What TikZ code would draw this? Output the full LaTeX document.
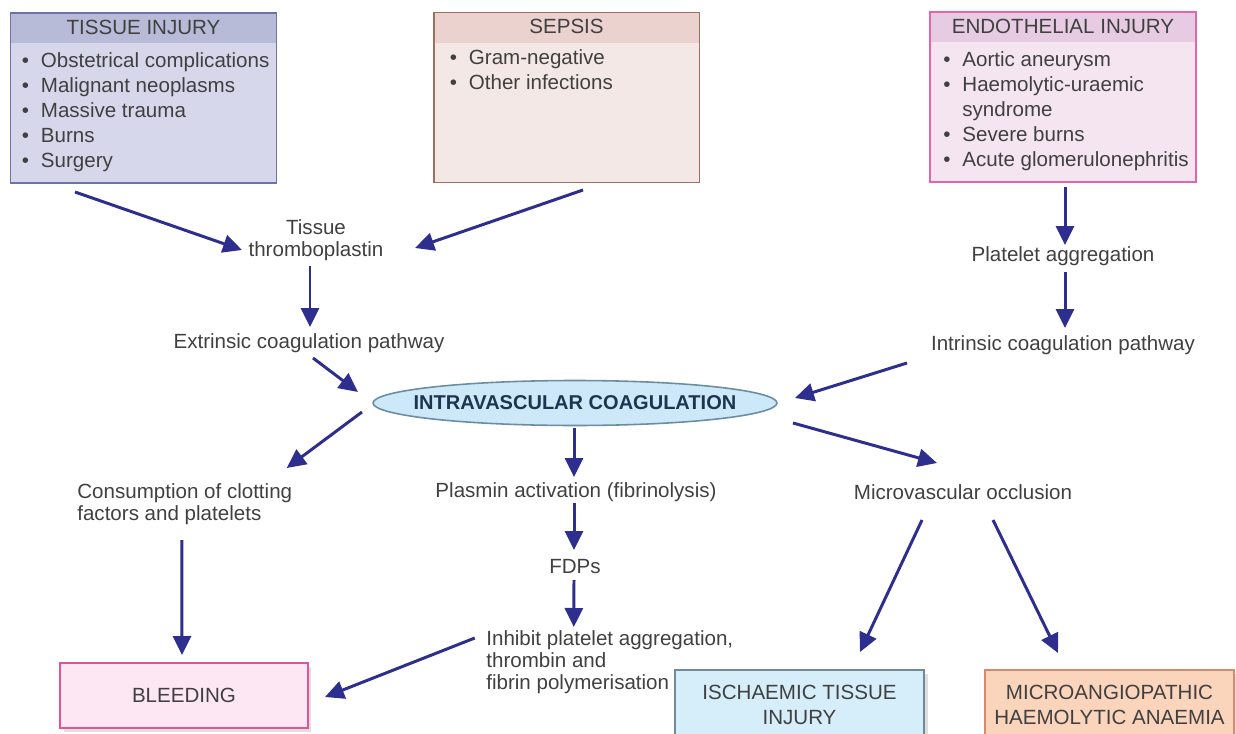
\documentclass[tikz,border=0pt]{standalone}
\usepackage{fontspec}
\setmainfont{Liberation Sans}
\usetikzlibrary{arrows.meta,shapes.geometric,shadows}

\definecolor{arrowblue}{HTML}{2E2E8E}
\definecolor{txtgrey}{HTML}{404040}
\definecolor{tissuehead}{HTML}{B8BBD8}
\definecolor{tissuebody}{HTML}{D6D7EB}
\definecolor{tissueedge}{HTML}{6E72A6}
\definecolor{sepsishead}{HTML}{EBD2CF}
\definecolor{sepsisbody}{HTML}{F4E8E7}
\definecolor{sepsisedge}{HTML}{9E6F60}
\definecolor{endohead}{HTML}{E7CBE2}
\definecolor{endobody}{HTML}{F4E5F1}
\definecolor{endoedge}{HTML}{E266AB}
\definecolor{bleedfill}{HTML}{FDE7F2}
\definecolor{bleededge}{HTML}{E0559A}
\definecolor{ischfill}{HTML}{D6EDFA}
\definecolor{ischedge}{HTML}{6F8A99}
\definecolor{mahfill}{HTML}{FAD5BC}
\definecolor{mahedge}{HTML}{D48A6C}
\definecolor{ivcfill}{HTML}{CDE8F8}
\definecolor{ivcedge}{HTML}{6B8DA2}
\definecolor{ivctext}{HTML}{1E3550}

\newcommand{\itm}[1]{\makebox[0.38cm][l]{\textbullet}#1}
\newcommand{\itmcont}[1]{\makebox[0.38cm][l]{}#1}

\tikzset{
  every node/.style={font=\fontsize{11.7}{12.6}\selectfont, text=txtgrey, inner sep=0pt},
  arr/.style={draw=arrowblue, line width=1.7pt, -{Triangle[length=0.38cm,width=0.36cm]}},
  causebox/.style n args={3}{draw=#1, fill=#2, line width=1.1pt,
    minimum width=5.32cm, minimum height=3.4cm,
    path picture={\fill[#3] (path picture bounding box.north west)
      rectangle ([yshift=-0.6cm]path picture bounding box.north east);}},
  itemlist/.style={anchor=north west, align=left, font=\fontsize{11.7}{14.3}\selectfont},
  flowtext/.style={align=center},
  coag/.style={ellipse, draw=ivcedge, fill=ivcfill, line width=0.9pt,
    minimum width=8.08cm, minimum height=0.9cm, text=ivctext,
    font=\fontsize{11.4}{13}\selectfont\bfseries},
  resultbox/.style 2 args={draw=#1, fill=#2, line width=1.1pt, align=center,
    font=\fontsize{11.7}{14.2}\selectfont, text=black!75,
    drop shadow={shadow xshift=2pt, shadow yshift=-2pt, fill=black!25}}
}

\begin{document}
\begin{tikzpicture}[x=0.02cm, y=-0.02cm]
  \useasboundingbox (0,0) rectangle (1236,733);
  \clip (0,0) rectangle (1236,733);

  % Причины
  \node[causebox={tissueedge}{tissuebody}{tissuehead}] (tissue) at (143.5,98) {};
  \node (tissuetitle) at ([shift={(0,15)}]tissue.north) {TISSUE INJURY};
  \node[itemlist] (tissuelist) at ([shift={(12,40)}]tissue.north west)
    {\itm{Obstetrical complications}\\ \itm{Malignant neoplasms}\\ \itm{Massive trauma}\\
     \itm{Burns}\\ \itm{Surgery}};

  \node[causebox={sepsisedge}{sepsisbody}{sepsishead}] (sepsis) at (566.5,97.5) {};
  \node (sepsistitle) at ([shift={(0,15)}]sepsis.north) {SEPSIS};
  \node[itemlist] (sepsislist) at ([shift={(17,38)}]sepsis.north west)
    {\itm{Gram-negative}\\ \itm{Other infections}};

  \node[causebox={endoedge}{endobody}{endohead}] (endo) at (1063,97) {};
  \node (endotitle) at ([shift={(0,15)}]endo.north) {ENDOTHELIAL INJURY};
  \node[itemlist] (endolist) at ([shift={(14,40)}]endo.north west)
    {\itm{Aortic aneurysm}\\ \itm{Haemolytic-uraemic}\\ \itmcont{syndrome}\\
     \itm{Severe burns}\\ \itm{Acute glomerulonephritis}};

  % Пути свертывания
  \node[flowtext] (thrombo) at (316,240) {Tissue\\thromboplastin};
  \node[flowtext] (extr) at (309,343) {Extrinsic coagulation pathway};
  \node[flowtext] (platelet) at (1063,256) {Platelet aggregation};
  \node[flowtext] (intr) at (1063,345) {Intrinsic coagulation pathway};
  \node[coag] (ivc) at (575,403) {\makebox[0pt]{INTRAVASCULAR COAGULATION}};

  % Последствия
  \node[flowtext, align=left, anchor=west] (consum) at (77,504) {Consumption of clotting\\factors and platelets};
  \node[flowtext] (plasmin) at (576,492) {Plasmin activation (fibrinolysis)};
  \node[flowtext] (micro) at (963,492) {Microvascular occlusion};
  \node[flowtext] (fdp) at (575,567) {FDPs};
  \node[flowtext, align=left, anchor=west] (inhibit) at (486,662) {Inhibit platelet aggregation,\\thrombin and\\fibrin polymerisation};

  \node[resultbox={bleededge}{bleedfill}, minimum width=4.96cm, minimum height=1.3cm] (bleed) at (184,695.5) {BLEEDING};
  \node[resultbox={ischedge}{ischfill}, minimum width=4.98cm, minimum height=1.4cm] (isch) at (799.5,705) {ISCHAEMIC TISSUE\\INJURY};
  \node[resultbox={mahedge}{mahfill}, minimum width=4.98cm, minimum height=1.4cm] (mah) at (1109.5,705) {MICROANGIOPATHIC\\HAEMOLYTIC ANAEMIA};

  % Стрелки
  \draw[arr] ([shift={(-68.5,94)}]tissue.center) -- ([shift={(-74,10)}]thrombo.center);
  \draw[arr] ([shift={(16.5,92.5)}]sepsis.center) -- ([shift={(99,8)}]thrombo.center);
  \draw[arr] ([shift={(-6,26)}]thrombo.center) -- ([shift={(1,-16)}]extr.center);
  \draw[arr] ([shift={(4,15)}]extr.center) -- ([shift={(-217,-11)}]ivc.center);
  \draw[arr] ([shift={(2,90)}]endo.center) -- ([shift={(2,-11)}]platelet.center);
  \draw[arr] ([shift={(2,16)}]platelet.center) -- ([shift={(2,-17)}]intr.center);
  \draw[arr] ([shift={(-156,18)}]intr.center) -- ([shift={(220,-5)}]ivc.center);
  \draw[arr] ([shift={(-213,9)}]ivc.center) -- ([shift={(102,-36)}]consum.center);
  \draw[arr] ([shift={(-1,25)}]ivc.center) -- ([shift={(-2,-15)}]plasmin.center);
  \draw[arr] ([shift={(218,20)}]ivc.center) -- ([shift={(-26,-29)}]micro.center);
  \draw[arr] ([shift={(-3,36)}]consum.center) -- ([shift={(-2,-40.5)}]bleed.center);
  \draw[arr] ([shift={(-2,11)}]plasmin.center) -- ([shift={(-1,-17)}]fdp.center);
  \draw[arr] ([shift={(-1,13)}]fdp.center) -- ([shift={(-36,-35)}]inhibit.center);
  \draw[arr] ([shift={(-135,-24)}]inhibit.center) -- ([shift={(141,1.5)}]bleed.center);
  \draw[arr] ([shift={(-41,28)}]micro.center) -- ([shift={(60.5,-53)}]isch.center);
  \draw[arr] ([shift={(30,28)}]micro.center) -- ([shift={(-51.5,-52)}]mah.center);
\end{tikzpicture}
\end{document}
